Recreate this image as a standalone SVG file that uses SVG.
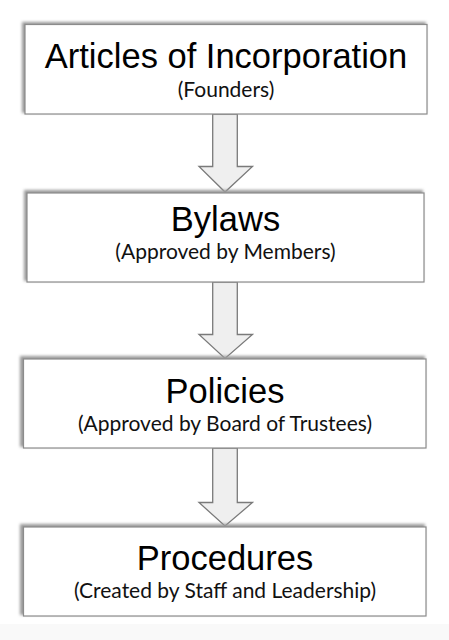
<svg xmlns="http://www.w3.org/2000/svg" width="449" height="640" viewBox="0 0 449 640">
<style>
.box{fill:#ffffff;stroke:#8c8c8c;stroke-width:1.2}
.shadow{fill:#9a9a9a;filter:url(#blur)}
.title{font-family:"Liberation Sans",Arial,sans-serif;font-size:34.5px;fill:#000;text-anchor:middle}
.sub{font-family:"Lato","Open Sans",sans-serif;font-size:21px;fill:#111;text-anchor:middle}
.arrow{fill:#efefef;stroke:#7a7a7a;stroke-width:1.3;stroke-linejoin:miter}
</style>
<defs>
<filter id="blur" x="-10%" y="-20%" width="120%" height="140%"><feGaussianBlur stdDeviation="1.5"/></filter>
</defs>
<rect x="0" y="0" width="449" height="640" fill="#ffffff"/>
<rect x="0" y="624" width="449" height="16" fill="#f9f9f9"/>
<g id="connectors">
<path class="arrow" d="M212.7,114 L237.3,114 L237.3,166.5 L252.5,166.5 L225,192 L199,166.5 L212.7,166.5 Z"/>
<path class="arrow" d="M212.7,282 L237.3,282 L237.3,334.5 L252.5,334.5 L225,358.5 L199,334.5 L212.7,334.5 Z"/>
<path class="arrow" d="M212.7,448 L237.3,448 L237.3,502.5 L252.5,502.5 L225,526 L199,502.5 L212.7,502.5 Z"/>
</g>
<g id="node1">
<rect class="shadow" x="22" y="22" width="404" height="91"/>
<rect class="box" x="25" y="24.5" width="402" height="89.5"/>
<text class="title" x="226" y="68">Articles of Incorporation</text>
<text class="sub" x="226" y="97">(Founders)</text>
</g>
<g id="node2">
<rect class="shadow" x="24" y="190" width="399" height="91"/>
<rect class="box" x="27" y="193" width="397" height="89"/>
<text class="title" x="225.5" y="231">Bylaws</text>
<text class="sub" x="225.5" y="259">(Approved by Members)</text>
</g>
<g id="node3">
<rect class="shadow" x="20" y="356" width="405" height="91"/>
<rect class="box" x="23.5" y="359" width="402.5" height="89"/>
<text class="title" x="225" y="402.5">Policies</text>
<text class="sub" x="225" y="431">(Approved by Board of Trustees)</text>
</g>
<g id="node4">
<rect class="shadow" x="20" y="524" width="405" height="91"/>
<rect class="box" x="23.5" y="527" width="402.5" height="89"/>
<text class="title" x="225" y="570">Procedures</text>
<text class="sub" x="225" y="598">(Created by Staff and Leadership)</text>
</g>
</svg>
